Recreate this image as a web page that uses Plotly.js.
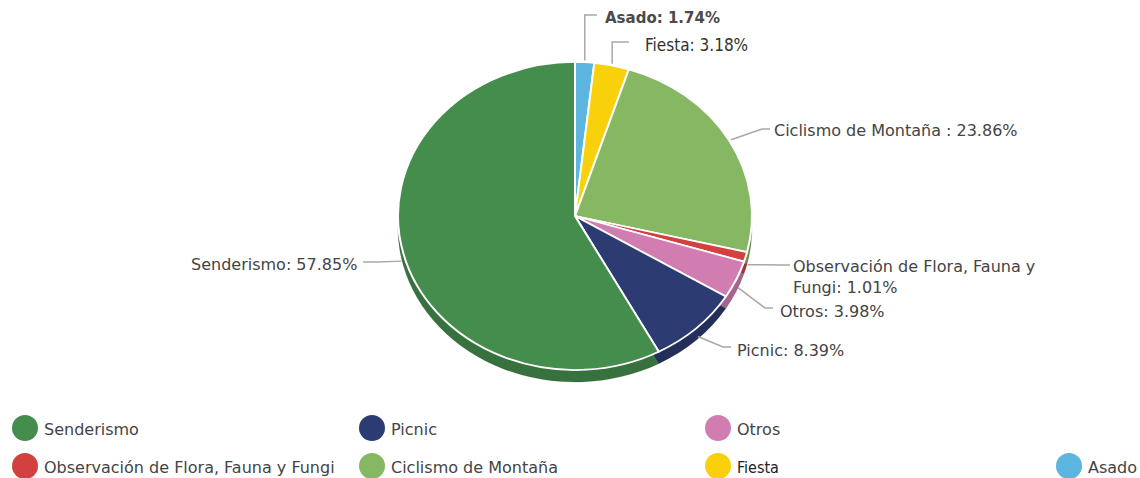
<!DOCTYPE html>
<html><head><meta charset="utf-8">
<script src="https://cdn.plot.ly/plotly-3.0.1.min.js"></script>
<style>html,body{margin:0;padding:0;background:#fff}#chart{width:1140px;height:478px}</style>
</head><body><div id="chart"></div>
<script>
// ---- data ----
const categories = ["Asado", "Fiesta", "Ciclismo de Montaña", "Observación de Flora, Fauna y Fungi", "Otros", "Picnic", "Senderismo"];
const percentages = [1.74, 3.18, 23.86, 1.01, 3.98, 8.39, 57.85];
const legendOrder = ["Senderismo", "Picnic", "Otros", "Observación de Flora, Fauna y Fungi", "Ciclismo de Montaña", "Fiesta", "Asado"];

// ---- styles ----
const W = 1140, H = 478;
const topColors = {
  "Asado": "#5BB5DF", "Fiesta": "#F8D00B", "Ciclismo de Montaña": "#86B863",
  "Observación de Flora, Fauna y Fungi": "#D2413F", "Otros": "#D17DB2",
  "Picnic": "#2C3B71", "Senderismo": "#458D4C"
};
function darken(hex, f) {
  const n = parseInt(hex.slice(1), 16);
  const r = Math.round(((n >> 16) & 255) * f), g = Math.round(((n >> 8) & 255) * f), b = Math.round((n & 255) * f);
  return "rgb(" + r + "," + g + "," + b + ")";
}
const FONT = "DejaVu Sans, Verdana, sans-serif";
const NARROW = "DejaVu Sans Condensed, Liberation Sans Narrow, Roboto Condensed, Roboto, sans-serif";
const TXT = "#444";

// pie geometry (pixels)
const cx = 575, cy = 216, R = 177, S = 308 / 354, DEPTH = 12;
const px = x => x / W, py = y => 1 - y / H;

// label layout (pixels): elbow + text anchor
const labelCfg = {
  "Asado": { sep: ": ", ex: null, ey: 15, endx: 597, tx: 603, ty: 18, anchor: "left", font: { family: FONT, size: 15, color: "#4a4a4a", weight: 600 } },
  "Fiesta": { sep: ": ", ex: null, ey: 42, endx: 629, tx: 643, ty: 45, anchor: "left", font: { family: NARROW, size: 17, color: "#333" } },
  "Ciclismo de Montaña": { sep: " : ", ex: 762, ey: 129, endx: 770, tx: 772, ty: 131, anchor: "left", font: { family: FONT, size: 16, color: TXT } },
  "Observación de Flora, Fauna y Fungi": { sep: ": ", br: true, ex: 783, ey: 265, endx: 790, tx: 791, ty: 277, anchor: "left", font: { family: FONT, size: 16, color: TXT } },
  "Otros": { sep: ": ", ex: 765, ey: 308, endx: 773, tx: 778, ty: 311, anchor: "left", font: { family: FONT, size: 16, color: TXT } },
  "Picnic": { sep: ": ", ex: 723, ey: 347, endx: 731, tx: 735, ty: 350, anchor: "left", font: { family: FONT, size: 16, color: TXT } },
  "Senderismo": { sep: ": ", ex: 378, ey: 262, endx: 363, tx: 359, ty: 264, anchor: "right", font: { family: FONT, size: 16, color: TXT } }
};

// legend grid layout (pixels)
const legendPos = {
  "Senderismo": [25, 428], "Picnic": [372, 428], "Otros": [718, 428],
  "Observación de Flora, Fauna y Fungi": [25, 466], "Ciclismo de Montaña": [372, 466],
  "Fiesta": [718, 466], "Asado": [1069, 466]
};

const topDomain = { x: [px(cx - R), px(cx + R)], y: [py(cy + R), py(cy - R)] };
const rimDomain = { x: [px(cx - R), px(cx + R)], y: [py(cy + DEPTH + R), py(cy + DEPTH - R)] };

const common = {
  type: "pie", labels: categories, values: percentages, sort: false,
  direction: "clockwise", rotation: 0, textinfo: "none", hoverinfo: "none",
  showlegend: false
};
const rimTrace = Object.assign({}, common, {
  domain: rimDomain,
  marker: { colors: categories.map(c => darken(topColors[c], 0.8)), line: { color: "rgba(0,0,0,0.15)", width: 1 } }
});
const topTrace = Object.assign({}, common, {
  domain: topDomain,
  marker: { colors: categories.map(c => topColors[c]), line: { color: "#ffffff", width: 2 } }
});

const shapes = [], annotations = [];
let cum = 0;
categories.forEach((c, i) => {
  const v = percentages[i];
  const th = 2 * Math.PI * (cum + v / 2) / 100;
  cum += v;
  const tipX = cx + (R + 2) * Math.sin(th);
  const tipY = cy - (R + 2) * S * Math.cos(th) + (Math.cos(th) < 0 ? DEPTH * 0.6 : 0);
  const cfg = labelCfg[c];
  const ex = cfg.ex === null ? tipX : cfg.ex;
  shapes.push({
    type: "path", xref: "paper", yref: "paper",
    path: `M${px(tipX)},${py(tipY)} L${px(ex)},${py(cfg.ey)} L${px(cfg.endx)},${py(cfg.ey)}`,
    line: { color: "#a8a8a8", width: 1.5 }
  });
  let name = c;
  if (cfg.br) name = name.replace("Fauna y ", "Fauna y<br>");
  annotations.push({
    xref: "paper", yref: "paper", x: px(cfg.tx), y: py(cfg.ty),
    xanchor: cfg.anchor, yanchor: "middle", align: "left", showarrow: false,
    text: name + cfg.sep + v.toFixed(2) + "%", font: cfg.font
  });
});

legendOrder.forEach(c => {
  const [lx, ly] = legendPos[c];
  const rr = 13;
  shapes.push({
    type: "circle", xref: "paper", yref: "paper",
    x0: px(lx - rr), x1: px(lx + rr), y0: py(ly + rr), y1: py(ly - rr),
    fillcolor: topColors[c], line: { width: 0 }
  });
  annotations.push({
    xref: "paper", yref: "paper", x: px(lx + 17), y: py(ly + 1),
    xanchor: "left", yanchor: "middle", showarrow: false, text: c,
    font: c === "Fiesta" ? { family: NARROW, size: 16, color: "#222" } : { family: FONT, size: 16, color: TXT }
  });
});

const layout = {
  width: W, height: H, margin: { l: 0, r: 0, t: 0, b: 0 },
  paper_bgcolor: "#ffffff", plot_bgcolor: "#ffffff",
  showlegend: false, shapes: shapes, annotations: annotations
};

Plotly.newPlot("chart", [rimTrace, topTrace], layout, { staticPlot: true, displayModeBar: false }).then(() => {
  const groups = document.querySelectorAll(".pielayer .trace");
  groups.forEach((g, i) => {
    const c = i === 0 ? cy + DEPTH : cy;
    g.setAttribute("transform", `matrix(1,0,0,${S},0,${c * (1 - S)})`);
  });
});
</script>
</body></html>
